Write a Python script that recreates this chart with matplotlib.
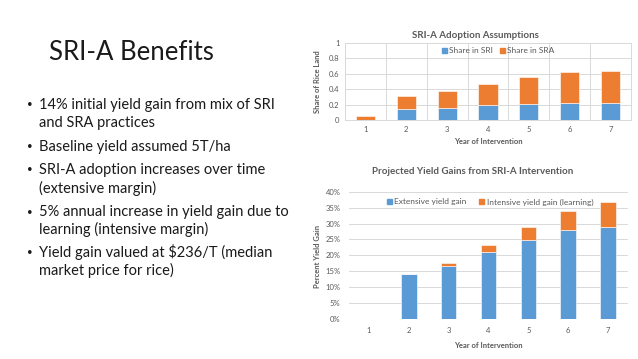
import matplotlib
matplotlib.use("Agg")
import matplotlib.pyplot as plt
import numpy as np
from matplotlib.patches import Patch

years = ["1", "2", "3", "4", "5", "6", "7"]
share_sri = [0.00, 0.14, 0.16, 0.20, 0.21, 0.22, 0.22]
share_sra = [0.05, 0.17, 0.21, 0.27, 0.34, 0.40, 0.42]
extensive_gain = [0.0, 14.0, 16.7, 21.0, 24.8, 28.0, 28.9]
intensive_gain = [0.0, 0.0, 0.9, 2.4, 4.0, 6.0, 8.0]

slide_title = "SRI-A Benefits"
bullets = [
    ["14% initial yield gain from mix of SRI", "and SRA practices"],
    ["Baseline yield assumed 5T/ha"],
    ["SRI-A adoption increases over time", "(extensive margin)"],
    ["5% annual increase in yield gain due to", "learning (intensive margin)"],
    ["Yield gain valued at $236/T (median", "market price for rice)"],
]

BLUE = "#5B9BD5"
ORANGE = "#ED7D31"
GRID = "#D9D9D9"
TXT = "#595959"
FONT = ["Lato", "DejaVu Sans"]
plt.rcParams['font.family'] = FONT

W, H = 638, 359
fig = plt.figure(figsize=(W / 100, H / 100), dpi=100)
fig.patch.set_facecolor("white")

def fx(x):
    return x / W

def fy(y):
    return 1 - y / H

# ---- Left side text ----
fig.text(fx(49), fy(53), slide_title, fontsize=18.5, fontweight="normal",
         color="#1a1a1a", va="center", ha="left")
line_y = [[105, 123], [147], [170, 188], [212, 229], [252, 270]]
for lines, ys in zip(bullets, line_y):
    fig.text(fx(27), fy(ys[0]), "•", fontsize=7, color="#1a1a1a", va="center", ha="left")
    for ln, yy in zip(lines, ys):
        fig.text(fx(39), fy(yy), ln, fontsize=10.5, color="#1a1a1a", va="center", ha="left")

x = np.arange(len(years))

# ---- Chart 1 ----
ax1 = fig.add_axes([fx(345), fy(120), fx(631) - fx(345), fy(42.7) - fy(120)])
ax1.bar(x, share_sri, width=0.47, color=BLUE, edgecolor="white", linewidth=0.4, zorder=3)
ax1.bar(x, share_sra, width=0.47, bottom=share_sri, color=ORANGE, edgecolor="white", linewidth=0.4, zorder=3)
ax1.set_xlim(-0.5, len(years) - 0.5)
ax1.set_ylim(0, 1)
ax1.set_yticks(np.arange(0, 1.01, 0.2))
ax1.set_yticklabels(["0", "0.2", "0.4", "0.6", "0.8", "1"])
ax1.set_xticks(x)
ax1.set_xticklabels(years)
ax1.set_xticks(np.arange(-0.5, len(years), 1), minor=True)
ax1.grid(axis="y", color=GRID, linewidth=0.7, zorder=0)
ax1.grid(axis="x", which="minor", color=GRID, linewidth=0.7, zorder=0)
ax1.tick_params(which="both", length=0, labelsize=5.5, colors=TXT, pad=4)
for s in ax1.spines.values():
    s.set_color(GRID)
    s.set_linewidth(0.7)
fig.text(fx(475), fy(35), "SRI-A Adoption Assumptions", fontsize=7, fontweight="bold",
         color=TXT, ha="center", va="center")
fig.text(fx(318), fy(82), "Share of Rice Land", fontsize=5.5, fontweight="bold",
         color=TXT, ha="center", va="center", rotation=90)
fig.text(fx(488), fy(142), "Year of Intervention", fontsize=5.5, fontweight="bold",
         color=TXT, ha="center", va="center")
leg1 = ax1.legend(handles=[Patch(color=BLUE, label="Share in SRI"), Patch(color=ORANGE, label="Share in SRA")],
                  loc="center", bbox_to_anchor=(fx(498), fy(50.7)), bbox_transform=fig.transFigure,
                  ncol=2, frameon=False, fontsize=6, handlelength=0.6, handleheight=0.6,
                  handletextpad=0.3, columnspacing=0.8, borderpad=0)
for t in leg1.get_texts():
    t.set_color(TXT)

# ---- Chart 2 ----
ax2 = fig.add_axes([fx(349), fy(319), fx(628) - fx(349), fy(191.7) - fy(319)])
ax2.bar(x, extensive_gain, width=0.39, color=BLUE, edgecolor="white", linewidth=0.4, zorder=3)
ax2.bar(x, intensive_gain, width=0.39, bottom=extensive_gain, color=ORANGE, edgecolor="white", linewidth=0.4, zorder=3)
ax2.set_xlim(-0.5, len(years) - 0.5)
ax2.set_ylim(0, 40)
ax2.set_yticks(np.arange(0, 41, 5))
ax2.set_yticklabels([f"{v}%" for v in range(0, 41, 5)])
ax2.set_xticks(x)
ax2.set_xticklabels(years)
ax2.grid(axis="y", color=GRID, linewidth=0.7, zorder=0)
ax2.tick_params(length=0, labelsize=5.5, colors=TXT, pad=6)
for s in ax2.spines.values():
    s.set_visible(False)
fig.text(fx(473), fy(171), "Projected Yield Gains from SRI-A Intervention", fontsize=7, fontweight="bold",
         color=TXT, ha="center", va="center")
fig.text(fx(317), fy(257), "Percent Yield Gain", fontsize=5.5, fontweight="bold",
         color=TXT, ha="center", va="center", rotation=90)
fig.text(fx(488), fy(345), "Year of Intervention", fontsize=5.5, fontweight="bold",
         color=TXT, ha="center", va="center")
leg2 = ax2.legend(handles=[Patch(color=BLUE, label="Extensive yield gain"),
                           Patch(color=ORANGE, label="Intensive yield gain (learning)")],
                  loc="center", bbox_to_anchor=(fx(490), fy(202)), bbox_transform=fig.transFigure,
                  ncol=2, frameon=False, fontsize=6, handlelength=0.6, handleheight=0.6,
                  handletextpad=0.3, columnspacing=1.5, borderpad=0)
for t in leg2.get_texts():
    t.set_color(TXT)

fig.savefig("out.png", dpi=100, facecolor="white")
